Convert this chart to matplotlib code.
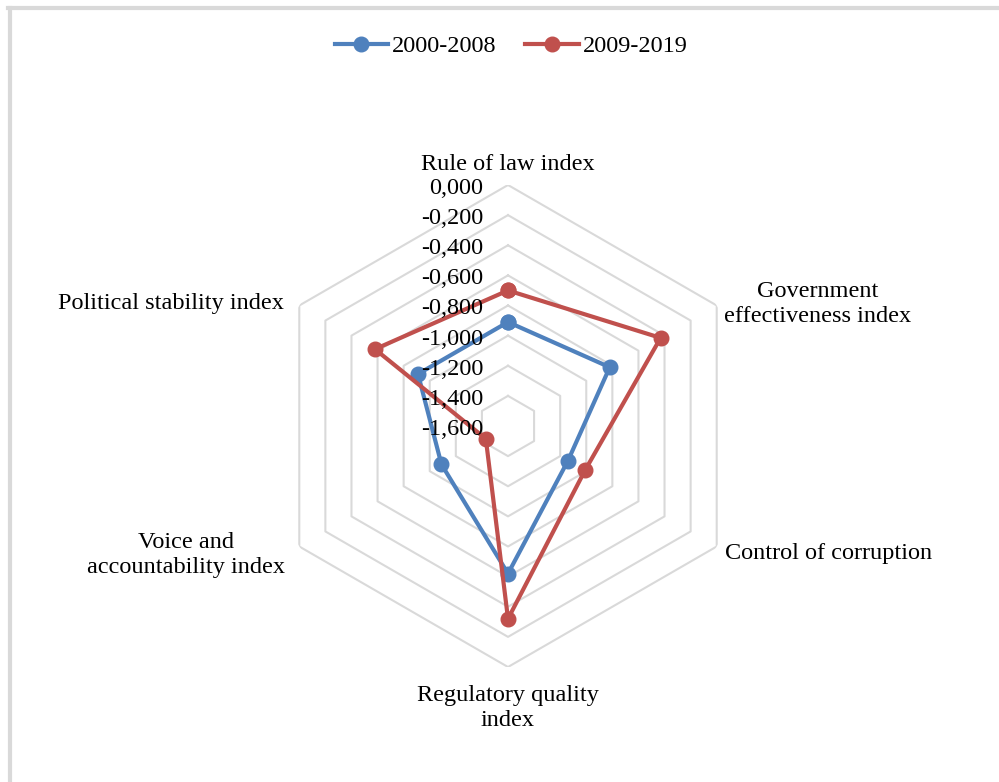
import matplotlib.pyplot as plt
import matplotlib
import numpy as np
from matplotlib.lines import Line2D

matplotlib.rcParams['font.family'] = ['Liberation Serif', 'DejaVu Serif']

categories = ['Rule of law index', 'Government effectiveness index', 'Control of corruption',
              'Regulatory quality index', 'Voice and accountability index', 'Political stability index']
s2000_2008 = [-0.91, -0.82, -1.14, -0.62, -1.09, -0.91]
s2009_2019 = [-0.70, -0.43, -1.01, -0.32, -1.43, -0.58]
series_names = ['2000-2008', '2009-2019']
rticks = [0.0, -0.2, -0.4, -0.6, -0.8, -1.0, -1.2, -1.4, -1.6]

blue = '#4f81bd'
red = '#c0504d'
grid = '#d9d9d9'

W, H = 999, 782
fig = plt.figure(figsize=(W / 100, H / 100), dpi=100)

# outer frame (light grey border, top and left visible)
fig.add_artist(Line2D([8 / W, 1], [1 - 8 / H, 1 - 8 / H], color=grid, lw=3, transform=fig.transFigure))
fig.add_artist(Line2D([10 / W, 10 / W], [0, 1 - 8 / H], color=grid, lw=3, transform=fig.transFigure))

cx, cy, R = 508, 426, 241
ax = fig.add_axes([(cx - R) / W, 1 - (cy + R) / H, 2 * R / W, 2 * R / H], projection='polar')
ax.set_theta_zero_location('N')
ax.set_theta_direction(-1)
ax.set_ylim(-1.6, 0)
ax.grid(False)
ax.spines['polar'].set_visible(False)
ax.set_xticks([])
ax.set_yticks([])
ax.patch.set_alpha(0)

theta = np.deg2rad(np.arange(len(categories)) * 60)
tc = np.append(theta, theta[0])

# hexagonal grid rings
for r in rticks[:-1]:
    ax.plot(tc, [r] * len(tc), color=grid, lw=1.5, zorder=1)

for vals, col, name in [(s2000_2008, blue, series_names[0]), (s2009_2019, red, series_names[1])]:
    v = np.append(vals, vals[0])
    ax.plot(tc, v, color=col, lw=3, marker='o', markersize=10.5, label=name, zorder=3)

# radial tick labels along the top axis
for r in rticks:
    lab = ('%.3f' % r).replace('.', ',')
    ax.annotate(lab, xy=(0, r), xytext=(-18, -2.5), textcoords='offset points',
                ha='right', va='center', fontsize=17.5, zorder=4)

fs = 17.5
def ftext(x, y, s, ha):
    fig.text(x / W, 1 - (y + 3) / H, s, ha=ha, va='center', fontsize=fs, linespacing=1.25)

ftext(508, 161, 'Rule of law index', 'center')
ftext(818, 301, 'Government\neffectiveness index', 'center')
ftext(725, 551, 'Control of corruption', 'left')
ftext(508, 705, 'Regulatory quality\nindex', 'center')
ftext(186, 552, 'Voice and\naccountability index', 'center')
ftext(284, 300, 'Political stability index', 'right')

fig.legend(loc='center', bbox_to_anchor=(511 / W, 1 - 46 / H), ncol=2, frameon=False,
           fontsize=17.5, handlelength=2.2, columnspacing=1.2, handletextpad=0.15)

plt.savefig('out.png', dpi=100)
